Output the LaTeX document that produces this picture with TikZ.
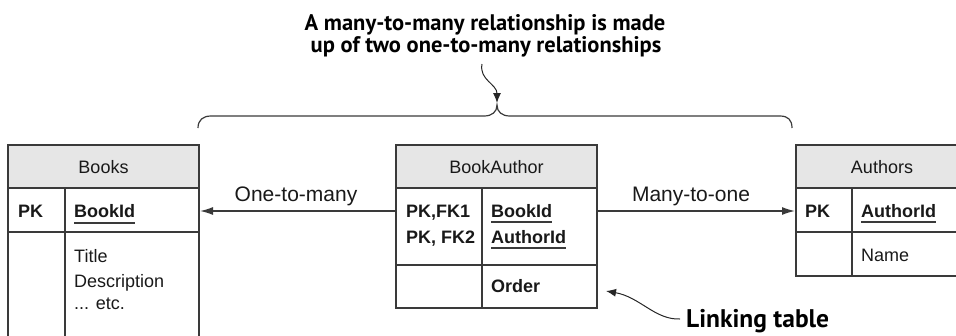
\documentclass[tikz,border=0pt]{standalone}
\usepackage{fontspec}
\setmainfont{Liberation Sans}
\newfontfamily\annfont{PT Sans}
\usetikzlibrary{arrows.meta}
\definecolor{lc}{HTML}{3A3A3A}
\definecolor{hdr}{HTML}{E6E6E6}
\begin{document}
\begin{tikzpicture}[x=1pt,y=-1pt,
  tbl/.style={draw=lc, line width=1.4pt},
  hdrcell/.style={draw=lc, line width=1.4pt, fill=hdr},
  ttext/.style={font=\fontsize{18}{22}\selectfont, inner sep=0pt, text=black!90},
  tbold/.style={ttext, font=\fontsize{18}{22}\selectfont\bfseries},
  ul/.style={draw=lc, line width=1.2pt},
  lbl/.style={font=\fontsize{21}{24}\selectfont, inner sep=0pt, text=black!90},
  rel/.style={draw=lc, line width=1.4pt, -{Latex[length=13pt,width=8pt]}},
  ann/.style={font=\annfont\bfseries\fontsize{22.5}{22}\selectfont, inner sep=0pt, text=black},
  annbig/.style={font=\annfont\bfseries\fontsize{25.5}{26}\selectfont, inner sep=0pt, text=black},
  squig/.style={draw=black!85, line width=1pt, -{Latex[length=10pt,width=8pt]}},
  brace/.style={draw=lc, line width=1.2pt}
]
\useasboundingbox (0,0) rectangle (956,335);
\clip (0,0) rectangle (956,335);

% ---------- Books ----------
\filldraw[hdrcell] (8,145) rectangle (199,188);
\draw[tbl] (8,188) -- (8,345) (199,188) -- (199,345) (8,232) -- (199,232) (65,188) -- (65,345);
\node[ttext, anchor=base] (booksT) at (103.5,173) {Books};
\node[tbold, anchor=base west] (bkpk) at (18,217) {PK};
\node[tbold, anchor=base west] (bkid) at (74,217) {BookId};
\draw[ul] ([yshift=-6pt]bkid.base west) -- ([yshift=-6pt]bkid.base east);
\node[ttext, anchor=base west] (bkt) at (74,262) {Title};
\node[ttext, anchor=base west] (bkd) at (74,287) {Description};
\node[ttext, anchor=base west] (bke) at (74,309) {... etc.};
\coordinate (booksE) at (200,211);

% ---------- BookAuthor ----------
\filldraw[hdrcell] (396,145) rectangle (597,188);
\draw[tbl] (396,188) rectangle (597,308) (396,265) -- (597,265) (482,188) -- (482,308);
\node[ttext, anchor=base] (baT) at (496.5,173) {BookAuthor};
\node[tbold, anchor=base west] (bapk1) at (406,217) {PK,FK1};
\node[tbold, anchor=base west] (bapk2) at (406,243) {PK, FK2};
\node[tbold, anchor=base west] (babid) at (491,217) {BookId};
\node[tbold, anchor=base west] (baaid) at (491,243) {AuthorId};
\draw[ul] ([yshift=-5pt]babid.base west) -- ([yshift=-5pt]babid.base east);
\draw[ul] ([yshift=-5pt]baaid.base west) -- ([yshift=-5pt]baaid.base east);
\node[tbold, anchor=base west] (baord) at (491,292) {Order};
\coordinate (baW) at (396,211);
\coordinate (baE) at (597,211);
\coordinate (baSE) at (606,291);

% ---------- Authors ----------
\filldraw[hdrcell] (796,145) rectangle (968,188);
\draw[tbl] (796,188) rectangle (968,276) (796,232) -- (968,232) (852,188) -- (852,276);
\node[ttext, anchor=base] (auT) at (882,173) {Authors};
\node[tbold, anchor=base west] (aupk) at (805,217) {PK};
\node[tbold, anchor=base west] (auid) at (861,217) {AuthorId};
\draw[ul] ([yshift=-5pt]auid.base west) -- ([yshift=-5pt]auid.base east);
\node[ttext, anchor=base west] (aun) at (861,261) {Name};
\coordinate (authW) at (795,211);

% ---------- relationships ----------
\draw[rel] (baW) -- (booksE);
\draw[rel] (baE) -- (authW);
\node[lbl, anchor=base] (l1) at (296,201) {One-to-many};
\node[lbl, anchor=base] (l2) at (691,201) {Many-to-one};

% ---------- brace and annotation ----------
\draw[brace] (198,128) .. controls (198,120) and (203,116) .. (211,116) -- (484,116)
  .. controls (492,116) and (497,112) .. (497,105)
  .. controls (497,112) and (502,116) .. (510,116) -- (780,116)
  .. controls (788,116) and (792,120) .. (792,128);
\node[ann, anchor=base] (ann1) at (485,30) {A many-to-many relationship is made};
\node[ann, anchor=base] (ann2) at (486,52) {up of two one-to-many relationships};
\coordinate (sqs) at (482,64);
\coordinate (cusp) at (497,103);
\draw[squig] (sqs) .. controls (479,80) and (497,84) .. (cusp);

\node[annbig, anchor=base west] (lk) at (686,327) {Linking table};
\coordinate (lks) at (680,319);
\draw[squig] (lks) .. controls (655,320) and (640,297) .. (baSE);
\end{tikzpicture}
\end{document}
